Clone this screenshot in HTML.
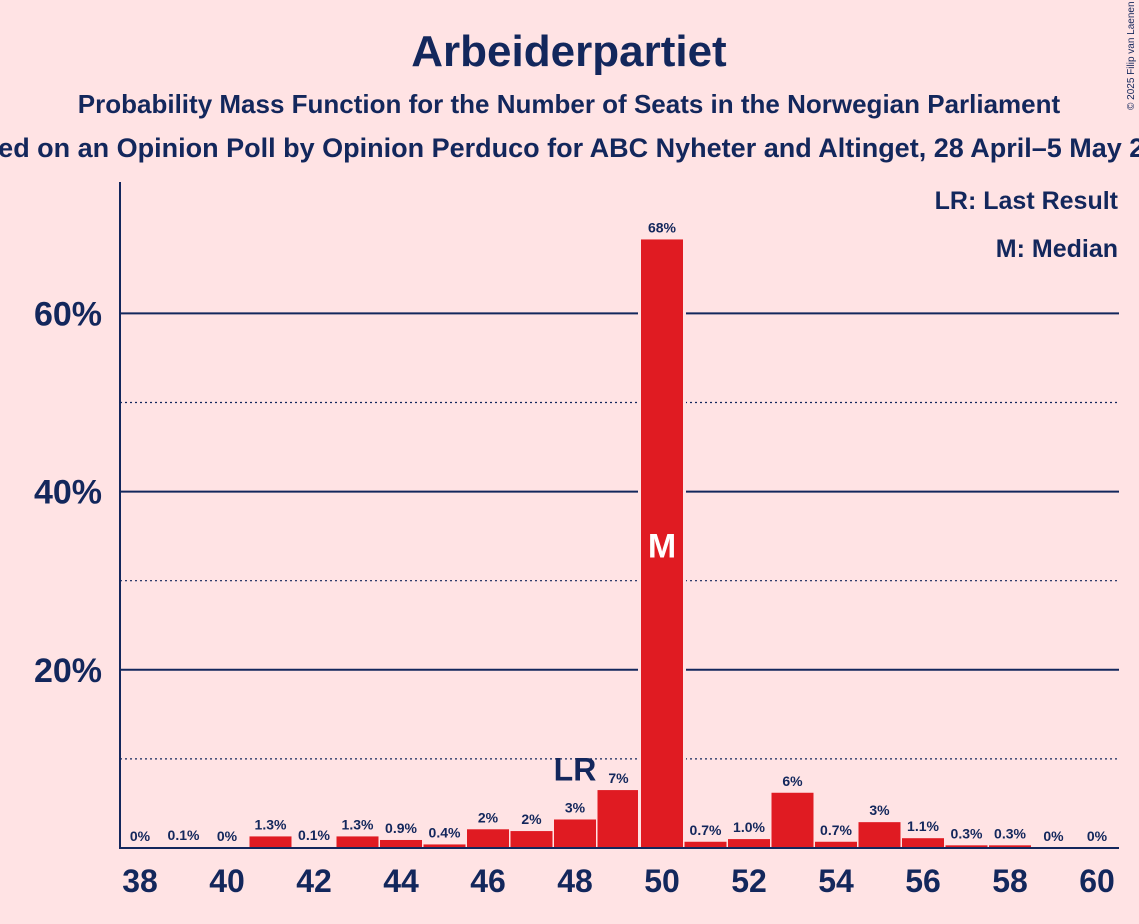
<!DOCTYPE html>
<html><head><meta charset="utf-8"><style>
html,body{margin:0;padding:0;background:#ffe3e4;}
svg{display:block;font-family:"Liberation Sans",sans-serif;}
</style></head><body>
<svg id="chart" width="1139" height="924">
<rect width="1139" height="924" fill="#ffe3e4"/>
<text x="569" y="66" text-anchor="middle" font-size="44" font-weight="bold" fill="#13275c">Arbeiderpartiet</text>
<text x="569" y="113" text-anchor="middle" font-size="26" font-weight="bold" fill="#13275c">Probability Mass Function for the Number of Seats in the Norwegian Parliament</text>
<text x="569" y="157" text-anchor="middle" font-size="27" font-weight="bold" fill="#13275c">Based on an Opinion Poll by Opinion Perduco for ABC Nyheter and Altinget, 28 April–5 May 2025</text>
<text x="1134" y="110" font-size="10" fill="#13275c" transform="rotate(-90 1134 110)">© 2025 Filip van Laenen</text>
<g id="grid"></g>
<g id="bars"></g>
<line x1="120" y1="182" x2="120" y2="849" stroke="#13275c" stroke-width="2"/>
<line x1="119" y1="848" x2="1119" y2="848" stroke="#13275c" stroke-width="2"/>
<g id="labels"></g>
<text x="1118" y="209" text-anchor="end" font-size="25" font-weight="bold" fill="#13275c">LR: Last Result</text>
<text x="1118" y="257" text-anchor="end" font-size="25" font-weight="bold" fill="#13275c">M: Median</text>
</svg>
<script>
const seats=[38,39,40,41,42,43,44,45,46,47,48,49,50,51,52,53,54,55,56,57,58,59,60];
const probs=[0,0.1,0,1.3,0.1,1.3,0.9,0.4,2.1,1.9,3.2,6.5,68.3,0.7,1.0,6.2,0.7,2.9,1.1,0.3,0.3,0,0];
const printed=["0%","0.1%","0%","1.3%","0.1%","1.3%","0.9%","0.4%","2%","2%","3%","7%","68%","0.7%","1.0%","6%","0.7%","3%","1.1%","0.3%","0.3%","0%","0%"];
const yTicks=[20,40,60];
const yDotted=[10,30,50];
const xTickLabels=[38,40,42,44,46,48,50,52,54,56,58,60];
const lastResult=48, median=50;
const NS="http://www.w3.org/2000/svg";
const X=s=>140+(s-38)*43.5;
const Y=v=>848-v*8.91;
function mk(t,a,p){const e=document.createElementNS(NS,t);for(const k in a)e.setAttribute(k,a[k]);document.getElementById(p).appendChild(e);return e;}
yDotted.forEach(v=>{const l=mk('line',{x1:120,x2:1119,y1:Y(v),y2:Y(v),stroke:'#13275c','stroke-width':1.2,'stroke-dasharray':'2,3'},'grid');

});
yTicks.forEach(v=>{const l=mk('line',{x1:120,x2:1119,y1:Y(v),y2:Y(v),stroke:'#13275c','stroke-width':2},'grid');


const t=mk('text',{x:102,y:Y(v)+12,'text-anchor':'end','font-size':34,'font-weight':'bold',fill:'#13275c'},'labels');t.textContent=v+'%';

});
seats.forEach((s,i)=>{const v=probs[i];
if(v>0){const r=mk('rect',{x:X(s)-21,y:Y(v),width:42,height:848-Y(v),fill:'#e01b22'},'bars');
if(v>20){const bg=mk('rect',{x:X(s)-24,y:Y(v)-3,width:48,height:848-Y(v)+3,fill:'#ffe3e4'},'bars');document.getElementById('bars').appendChild(r);}

}
const t=mk('text',{x:X(s),y:Y(v)-7,'text-anchor':'middle','font-size':14,'font-weight':'bold',fill:'#13275c'},'labels');t.textContent=printed[i];


if(s===lastResult){const l=mk('text',{x:X(s),y:Y(v)-39,'text-anchor':'middle','font-size':32,'font-weight':'bold',fill:'#13275c'},'labels');l.textContent='LR';

}
if(s===median){const m=mk('text',{x:X(s),y:Y(v/2)+14,'text-anchor':'middle','font-size':34,'font-weight':'bold',fill:'#ffffff'},'labels');m.textContent='M';

}});
xTickLabels.forEach(s=>{const t=mk('text',{x:X(s),y:892,'text-anchor':'middle','font-size':32,'font-weight':'bold',fill:'#13275c'},'labels');t.textContent=s;

});
</script>
</body></html>
